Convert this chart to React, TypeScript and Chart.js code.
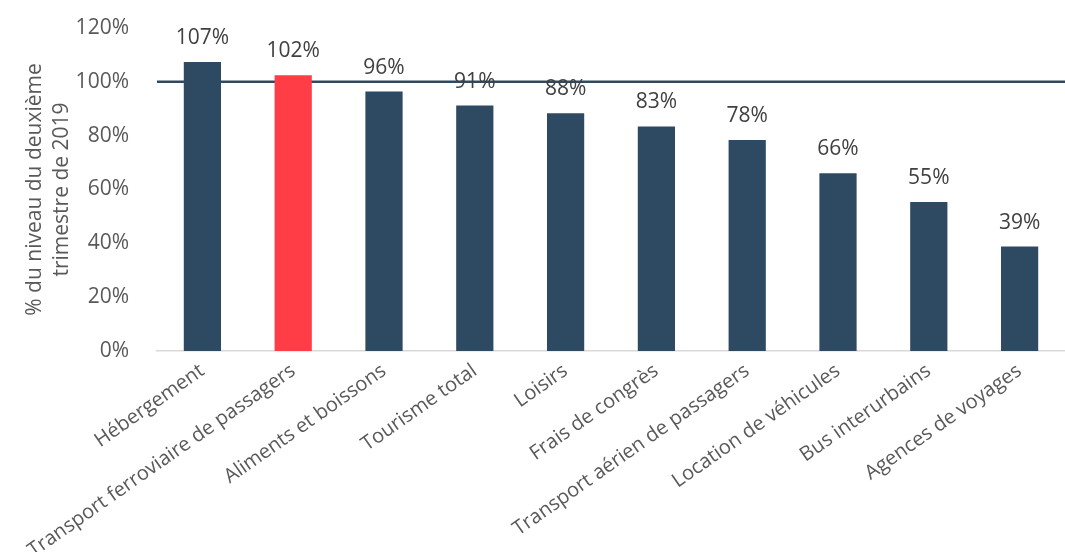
import React, { useEffect, useRef } from "react";
import { Chart, registerables } from "chart.js";

Chart.register(...registerables);

const categories = [
  "Hébergement",
  "Transport ferroviaire de passagers",
  "Aliments et boissons",
  "Tourisme total",
  "Loisirs",
  "Frais de congrès",
  "Transport aérien de passagers",
  "Location de véhicules",
  "Bus interurbains",
  "Agences de voyages",
];
const values = [107.4, 102.4, 96.4, 91.2, 88.3, 83.4, 78.4, 66.0, 55.4, 38.8];
const highlightIndex = 1;
const referenceLevel = 100;
const yTicks = [0, 20, 40, 60, 80, 100, 120];
const yTitle = ["% du niveau du deuxième", "trimestre de 2019"];

const DARK = "#2D4A62";
const RED = "#FF3D46";
const FONT = "'Open Sans', sans-serif";

export default function App() {
  const ref = useRef<HTMLCanvasElement | null>(null);

  useEffect(() => {
    document.body.style.margin = "0";
    const canvas = ref.current;
    if (!canvas) return;

    const refLine = {
      id: "refLine",
      beforeDatasetsDraw(chart: any) {
        const { ctx, chartArea, scales } = chart;
        const y = scales.y.getPixelForValue(referenceLevel);
        ctx.save();
        ctx.strokeStyle = DARK;
        ctx.lineWidth = 2.5;
        ctx.beginPath();
        ctx.moveTo(chartArea.left, y);
        ctx.lineTo(chart.width, y);
        ctx.stroke();
        ctx.restore();
      },
    };

    const labels = {
      id: "valueLabels",
      afterDatasetsDraw(chart: any) {
        const { ctx } = chart;
        const meta = chart.getDatasetMeta(0);
        ctx.save();
        ctx.fillStyle = "#404040";
        ctx.font = `21px ${FONT}`;
        ctx.textAlign = "center";
        ctx.textBaseline = "middle";
        meta.data.forEach((bar: any, i: number) => {
          ctx.fillText(Math.round(values[i]) + "%", bar.x, bar.y - 24);
        });
        ctx.restore();
      },
    };

    const chart = new Chart(canvas, {
      type: "bar",
      data: {
        labels: categories,
        datasets: [
          {
            data: values,
            backgroundColor: values.map((_, i) => (i === highlightIndex ? RED : DARK)),
            barPercentage: 0.41,
            categoryPercentage: 1,
          },
        ],
      },
      options: {
        animation: false,
        responsive: false,
        maintainAspectRatio: false,
        layout: { padding: { top: 28, right: 0, left: 0, bottom: 0 } },
        plugins: { legend: { display: false }, tooltip: { enabled: false } },
        scales: {
          x: {
            grid: { display: false },
            border: { display: true, color: "#D9D9D9", width: 1.5 },
            ticks: {
              color: "#595959",
              font: { family: FONT, size: 20 },
              minRotation: 35,
              maxRotation: 35,
              autoSkip: false,
              padding: 0,
            },
            afterFit(scale: any) {
              scale.height = 201;
            },
          },
          y: {
            min: 0,
            max: 120,
            afterBuildTicks(scale: any) {
              scale.ticks = yTicks.map((v) => ({ value: v }));
            },
            grid: { display: false },
            border: { display: false },
            ticks: {
              color: "#595959",
              font: { family: FONT, size: 21 },
              padding: 20,
              callback: (v: any) => v + "%",
            },
            title: {
              display: true,
              text: yTitle,
              color: "#595959",
              font: { family: FONT, size: 21, lineHeight: 1.29 },
              padding: { top: 21, bottom: 0 },
            },
            afterFit(scale: any) {
              scale.width = 157;
              scale.paddingTop = 0;
              scale.paddingBottom = 0;
            },
          },
        },
      },
      plugins: [refLine, labels],
    });

    return () => chart.destroy();
  }, []);

  return (
    <div style={{ width: 1065, height: 552 }}>
      <canvas ref={ref} width={1065} height={552} style={{ display: "block" }} />
    </div>
  );
}
